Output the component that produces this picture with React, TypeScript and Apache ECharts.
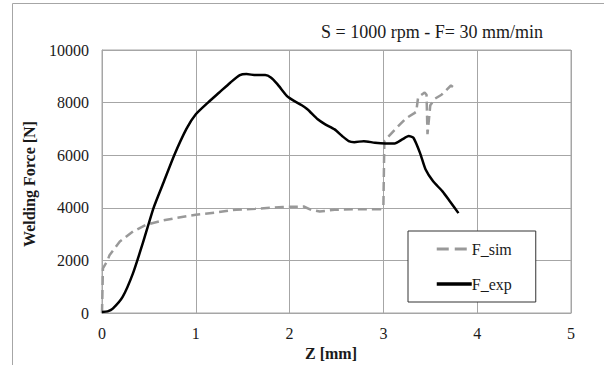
import React, { useEffect, useRef } from "react";
import * as echarts from "echarts";

const simZ = [0, 0.01, 0.06, 0.08, 0.19, 0.33, 0.47, 0.65, 0.79, 1.0, 1.22, 1.43, 1.64, 1.93, 2.15, 2.23, 2.32, 2.48, 2.73, 2.97, 3.0, 3.01, 3.13, 3.24, 3.33, 3.35, 3.37, 3.44, 3.46, 3.47, 3.5, 3.55, 3.62, 3.72, 3.78];
const simF = [0, 1700, 2000, 2200, 2716, 3098, 3354, 3518, 3610, 3737, 3825, 3928, 3966, 4030, 4050, 3924, 3860, 3924, 3949, 3949, 4050, 6540, 7000, 7400, 7600, 7650, 8200, 8380, 8300, 6800, 7900, 8150, 8300, 8650, 8480];

const expZ = [0, 0.06, 0.115, 0.22, 0.33, 0.435, 0.55, 0.66, 0.77, 0.9, 1.0, 1.13, 1.25, 1.37, 1.47, 1.54, 1.64, 1.74, 1.8, 1.87, 1.97, 2.03, 2.13, 2.19, 2.3, 2.38, 2.48, 2.56, 2.63, 2.69, 2.79, 2.91, 3.02, 3.12, 3.2, 3.27, 3.32, 3.39, 3.45, 3.53, 3.63, 3.71, 3.8];
const expF = [38, 64, 168, 612, 1507, 2654, 4000, 5000, 6000, 7000, 7554, 8000, 8383, 8765, 9045, 9083, 9045, 9045, 8956, 8700, 8255, 8102, 7900, 7746, 7364, 7172, 6981, 6727, 6535, 6497, 6535, 6472, 6446, 6446, 6599, 6727, 6663, 6089, 5453, 5007, 4625, 4242, 3797];

const xTicks = [0, 1, 2, 3, 4, 5];
const yTicks = [0, 2000, 4000, 6000, 8000, 10000];

const titleText = "S = 1000 rpm - F= 30 mm/min";
const xTitle = "Z [mm]";
const yTitle = "Welding Force [N]";
const serif = "Liberation Serif";

export default function App() {
  const ref = useRef<HTMLDivElement>(null);
  useEffect(() => {
    if (!ref.current) return;
    document.body.style.margin = "0";
    document.body.style.overflow = "hidden";
    const chart = echarts.init(ref.current, undefined, { renderer: "svg" });
    const gridColor = "#a6a6a6";
    chart.setOption({
      animation: false,
      backgroundColor: "#ffffff",
      textStyle: { fontFamily: serif },
      grid: {
        left: 102,
        right: 33,
        top: 50,
        bottom: 52,
        show: true,
        borderColor: gridColor,
        borderWidth: 1,
      },
      xAxis: {
        type: "value",
        min: xTicks[0],
        max: xTicks[xTicks.length - 1],
        interval: 1,
        axisLine: { show: true, lineStyle: { color: gridColor, width: 1 } },
        axisTick: { show: false },
        splitLine: { show: true, lineStyle: { color: gridColor, width: 1 } },
        axisLabel: { fontFamily: serif, fontSize: 16, color: "#1a1a1a", margin: 12, formatter: (v: number) => String(v) },
      },
      yAxis: {
        type: "value",
        min: yTicks[0],
        max: yTicks[yTicks.length - 1],
        interval: 2000,
        axisLine: { show: true, lineStyle: { color: gridColor, width: 1 } },
        axisTick: { show: false },
        splitLine: { show: true, lineStyle: { color: gridColor, width: 1 } },
        axisLabel: { fontFamily: serif, fontSize: 16, color: "#1a1a1a", margin: 13, formatter: (v: number) => String(v) },
      },
      legend: {
        orient: "vertical",
        left: 408,
        top: 231,
        padding: [10, 24, 10, 27],
        itemGap: 19,
        itemWidth: 35,
        itemHeight: 14,
        borderColor: "#333333",
        borderWidth: 1,
        backgroundColor: "#ffffff",
        itemStyle: { opacity: 0 },
        textStyle: { fontFamily: serif, fontSize: 16, color: "#1a1a1a", padding: [0, 0, 0, -5] },
        data: [
          { name: "F_sim", lineStyle: { width: 3, type: [12, 6] } },
          { name: "F_exp", lineStyle: { width: 3.5 } },
        ],
      },
      graphic: [
        {
          type: "rect",
          shape: { x: 12.5, y: 3.5, width: 700, height: 500 },
          style: { fill: "none", stroke: "#a6a6a6", lineWidth: 1 },
          silent: true,
        },
        {
          type: "text",
          x: 432,
          y: 32,
          style: {
            text: titleText,
            font: `18px ${serif}`,
            fill: "#1a1a1a",
            textAlign: "center",
            textVerticalAlign: "middle",
          },
        },
        {
          type: "text",
          x: 331,
          y: 353,
          style: {
            text: xTitle,
            font: `bold 16px ${serif}`,
            fill: "#1a1a1a",
            textAlign: "center",
            textVerticalAlign: "middle",
          },
        },
        {
          type: "text",
          x: 29,
          y: 184,
          rotation: Math.PI / 2,
          style: {
            text: yTitle,
            font: `bold 16px ${serif}`,
            fill: "#1a1a1a",
            textAlign: "center",
            textVerticalAlign: "middle",
          },
        },
      ],
      series: [
        {
          name: "F_sim",
          type: "line",
          symbol: "none",
          data: simZ.map((z, i) => [z, simF[i]]),
          lineStyle: { color: "#999999", width: 2.5, type: [9, 5] },
          itemStyle: { color: "#999999" },
          z: 2,
        },
        {
          name: "F_exp",
          type: "line",
          symbol: "none",
          smooth: 0.2,
          data: expZ.map((z, i) => [z, expF[i]]),
          lineStyle: { color: "#000000", width: 2.5 },
          itemStyle: { color: "#000000" },
          z: 3,
        },
      ],
    });
    return () => chart.dispose();
  }, []);
  return <div ref={ref} style={{ position: "absolute", left: 0, top: 0, width: 604, height: 365 }} />;
}
